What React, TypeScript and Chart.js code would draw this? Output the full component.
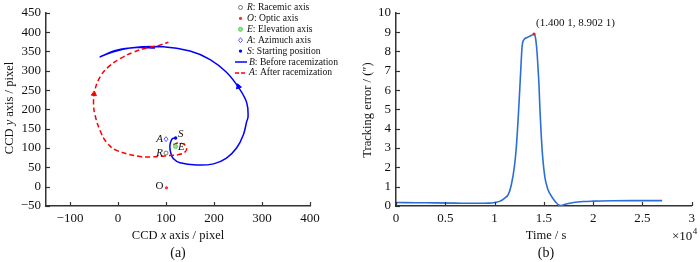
import React, { useEffect, useRef } from 'react';
import { Chart, registerables } from 'chart.js';

Chart.register(...registerables);

// ---------- Left chart data (CCD pixels) ----------
const beforeX = [120, 114, 110, 108, 110, 115, 129, 164, 199, 226, 247, 261, 268, 271, 268, 251, 226, 192, 150, 94, 25, -17, -37, -3, 39, 77];
const beforeY = [125, 125, 117, 104, 87, 73, 62, 56, 59, 74, 100, 134, 168, 182, 218, 257, 296, 329, 351, 362, 359, 346, 336, 353, 360, 359];

const afterX = [115, 126, 137, 143, 140, 126, 108, 94, 67, 46, -3, -24, -37, -48, -51, -48, -37, -20, 4, 32, 60, 84, 105];
const afterY = [109, 113, 110, 100, 90, 83, 81, 79, 77, 78, 94, 115, 144, 186, 218, 251, 285, 310, 331, 348, 359, 365, 374];

const markerNames = ['R', 'O', 'E', 'A', 'S'];
const markerX = [100, 101, 120, 100, 120];
const markerY = [87, -3, 104, 123, 126];

const arrowBefore = { x: 251, y: 259, rot: -20 };
const arrowAfter = { x: -50, y: 240, rot: 6 };

const leftXTicks = [-100, 0, 100, 200, 300, 400];
const leftYTicks = [-50, 0, 50, 100, 150, 200, 250, 300, 350, 400, 450];

const legendLetters = ['R', 'O', 'E', 'A', 'S', 'B', 'A'];
const legendTexts = [': Racemic axis', ': Optic axis', ': Elevation axis', ': Azimuch axis', ': Starting position', ': Before racemization', ': After racemization'];

// ---------- Right chart data (time ×10^4 s, tracking error ″) ----------
const timeE4 = [0, 0.2, 0.4, 0.6, 0.8, 0.95, 1.0, 1.05, 1.1, 1.14, 1.17, 1.2, 1.22, 1.24, 1.255, 1.267, 1.28, 1.3, 1.33, 1.36, 1.39, 1.4001, 1.415, 1.43, 1.44, 1.45, 1.46, 1.475, 1.49, 1.51, 1.535, 1.56, 1.59, 1.62, 1.65, 1.67, 1.7, 1.75, 1.8, 1.9, 2.0, 2.2, 2.4, 2.6, 2.7];
const trackErr = [0.18, 0.17, 0.16, 0.15, 0.14, 0.15, 0.18, 0.24, 0.4, 0.6, 1.1, 2.0, 3.0, 4.6, 6.0, 7.2, 8.3, 8.62, 8.72, 8.8, 8.87, 8.9021, 8.7, 8.0, 7.2, 6.3, 5.0, 3.5, 2.4, 1.5, 0.95, 0.65, 0.4, 0.2, 0.05, 0.02, 0.06, 0.13, 0.18, 0.23, 0.25, 0.27, 0.28, 0.28, 0.28];
const peakT = 1.4001;
const peakV = 8.9021;
const peakLabel = '(1.400 1, 8.902 1)';

const rightXTicks = [0, 0.5, 1, 1.5, 2, 2.5, 3];
const rightYTicks = [0, 1, 2, 3, 4, 5, 6, 7, 8, 9, 10];

const SERIF = "'Liberation Serif', 'Times New Roman', serif";
const BLUE = '#0000ff';
const RED = '#ff0000';
const LINEBLUE = '#2a6fd8';

function zip(xs: number[], ys: number[]) {
  return xs.map((x, i) => ({ x, y: ys[i] }));
}

function fmt(v: number) {
  return String(v).replace('-', '\u2212');
}

const insideTicks = {
  id: 'insideTicks',
  afterDatasetsDraw(chart: any) {
    const ctx = chart.ctx;
    const { x, y } = chart.scales;
    const area = chart.chartArea;
    ctx.save();
    ctx.strokeStyle = '#333';
    ctx.lineWidth = 1.2;
    x.ticks.forEach((t: any) => {
      const px = Math.round(x.getPixelForValue(t.value)) + 0.5;
      ctx.beginPath();
      ctx.moveTo(px, area.bottom);
      ctx.lineTo(px, area.bottom - 4);
      ctx.stroke();
    });
    y.ticks.forEach((t: any) => {
      const py = Math.round(y.getPixelForValue(t.value)) + 0.5;
      ctx.beginPath();
      ctx.moveTo(area.left, py);
      ctx.lineTo(area.left + 4, py);
      ctx.stroke();
    });
    ctx.restore();
  },
};

function drawMixed(ctx: CanvasRenderingContext2D, x: number, y: number, italic: string, rest: string, size: number) {
  ctx.font = `italic ${size}px ${SERIF}`;
  ctx.fillText(italic, x, y);
  const w = ctx.measureText(italic).width;
  ctx.font = `${size}px ${SERIF}`;
  ctx.fillText(rest, x + w, y);
}

function drawMarker(ctx: CanvasRenderingContext2D, kind: string, cx: number, cy: number) {
  ctx.save();
  ctx.lineWidth = 1;
  if (kind === 'R') {
    ctx.strokeStyle = '#777';
    ctx.beginPath();
    ctx.arc(cx, cy, 2, 0, Math.PI * 2);
    ctx.stroke();
  } else if (kind === 'O') {
    ctx.fillStyle = '#ff3030';
    ctx.beginPath();
    ctx.arc(cx, cy, 1.6, 0, Math.PI * 2);
    ctx.fill();
  } else if (kind === 'E') {
    ctx.fillStyle = '#8fe88f';
    ctx.strokeStyle = '#55cc55';
    ctx.beginPath();
    ctx.arc(cx, cy, 2, 0, Math.PI * 2);
    ctx.fill();
    ctx.stroke();
  } else if (kind === 'A') {
    ctx.strokeStyle = '#5a5aff';
    ctx.beginPath();
    ctx.moveTo(cx, cy - 2.5);
    ctx.lineTo(cx + 2, cy);
    ctx.lineTo(cx, cy + 2.5);
    ctx.lineTo(cx - 2, cy);
    ctx.closePath();
    ctx.stroke();
  } else if (kind === 'S') {
    ctx.fillStyle = BLUE;
    ctx.beginPath();
    ctx.arc(cx, cy, 1.7, 0, Math.PI * 2);
    ctx.fill();
  }
  ctx.restore();
}

const leftTexts = {
  id: 'leftTexts',
  afterDraw(chart: any) {
    const ctx: CanvasRenderingContext2D = chart.ctx;
    const { x, y } = chart.scales;
    ctx.save();
    ctx.fillStyle = '#111';
    ctx.textBaseline = 'middle';
    // markers near the loop
    markerNames.forEach((n, i) => {
      const px = x.getPixelForValue(markerX[i]);
      const py = y.getPixelForValue(markerY[i]);
      drawMarker(ctx, n, px, py);
      ctx.fillStyle = '#111';
      ctx.font = (n === 'O' ? '' : 'italic ') + `11px ${SERIF}`;
      if (n === 'R' || n === 'A' || n === 'O') {
        ctx.textAlign = 'right';
        ctx.fillText(n, px - 3, py - (n === 'O' ? 2 : 0));
      } else if (n === 'S') {
        ctx.textAlign = 'left';
        ctx.fillText(n, px + 2.5, py - 3.5);
      } else {
        ctx.textAlign = 'left';
        ctx.fillText(n, px + 2.5, py + 0.5);
      }
    });
    // legend
    ctx.textAlign = 'left';
    legendLetters.forEach((L, i) => {
      const cy = 7.5 + i * 10.9;
      if (i < 5) {
        drawMarker(ctx, markerNames[i], 240.5, cy);
        ctx.fillStyle = '#111';
        drawMixed(ctx, 247, cy, L, legendTexts[i], 9.6);
      } else {
        ctx.save();
        ctx.lineWidth = 1.5;
        ctx.strokeStyle = i === 5 ? BLUE : RED;
        if (i === 6) ctx.setLineDash([4, 2]);
        ctx.beginPath();
        ctx.moveTo(235, cy);
        ctx.lineTo(247, cy);
        ctx.stroke();
        ctx.restore();
        ctx.fillStyle = '#111';
        drawMixed(ctx, 249, cy, L, legendTexts[i], 9.6);
      }
    });
    // axis titles
    ctx.fillStyle = '#111';
    ctx.textAlign = 'left';
    const parts: [string, boolean][] = [['CCD ', false], ['x', true], [' axis / pixel', false]];
    let total = 0;
    parts.forEach(([t, it]) => { ctx.font = `${it ? 'italic ' : ''}12.5px ${SERIF}`; total += ctx.measureText(t).width; });
    let sx = 178 - total / 2;
    parts.forEach(([t, it]) => { ctx.font = `${it ? 'italic ' : ''}12.5px ${SERIF}`; ctx.fillText(t, sx, 236); sx += ctx.measureText(t).width; });
    ctx.font = `14px ${SERIF}`;
    ctx.textAlign = 'center';
    ctx.fillText('(a)', 178, 253);
    // y title rotated
    ctx.save();
    ctx.translate(10, 108);
    ctx.rotate(-Math.PI / 2);
    const yparts: [string, boolean][] = [['CCD ', false], ['y', true], [' axis / pixel', false]];
    total = 0;
    yparts.forEach(([t, it]) => { ctx.font = `${it ? 'italic ' : ''}12.5px ${SERIF}`; total += ctx.measureText(t).width; });
    sx = -total / 2;
    ctx.textAlign = 'left';
    yparts.forEach(([t, it]) => { ctx.font = `${it ? 'italic ' : ''}12.5px ${SERIF}`; ctx.fillText(t, sx, 0); sx += ctx.measureText(t).width; });
    ctx.restore();
    ctx.restore();
  },
};

const rightTexts = {
  id: 'rightTexts',
  afterDraw(chart: any) {
    const ctx: CanvasRenderingContext2D = chart.ctx;
    const { x, y } = chart.scales;
    ctx.save();
    ctx.fillStyle = '#111';
    ctx.textBaseline = 'middle';
    const px = x.getPixelForValue(peakT);
    const py = y.getPixelForValue(peakV);
    ctx.fillStyle = '#e02020';
    ctx.beginPath();
    ctx.arc(px, py, 1.6, 0, Math.PI * 2);
    ctx.fill();
    ctx.fillStyle = '#111';
    ctx.font = `11px ${SERIF}`;
    ctx.textAlign = 'left';
    ctx.fillText(peakLabel, px + 2, py - 11);
    ctx.font = `12.5px ${SERIF}`;
    ctx.textAlign = 'center';
    ctx.fillText('Time / s', 196, 236);
    ctx.font = `14px ${SERIF}`;
    ctx.fillText('(b)', 196, 253);
    ctx.font = `13px ${SERIF}`;
    ctx.textAlign = 'left';
    ctx.fillText('\u00d710', 322, 237);
    const w = ctx.measureText('\u00d710').width;
    ctx.font = `9px ${SERIF}`;
    ctx.fillText('4', 322 + w + 0.5, 232);
    ctx.save();
    ctx.translate(18, 110);
    ctx.rotate(-Math.PI / 2);
    ctx.font = `12.5px ${SERIF}`;
    ctx.textAlign = 'center';
    ctx.fillText('Tracking error / (\u2033)', 0, 0);
    ctx.restore();
    ctx.restore();
  },
};

const tickFont = { family: SERIF, size: 13 };

function axisBase(ticksArr: number[], isX: boolean, size: number) {
  return {
    type: 'linear' as const,
    border: { display: true, color: '#333', width: 1.5 },
    grid: { display: false, drawTicks: false },
    afterBuildTicks: (s: any) => { s.ticks = ticksArr.map((v) => ({ value: v })); },
    afterFit: (s: any) => { if (isX) s.height = size; else s.width = size; },
    ticks: { font: tickFont, color: '#111', padding: 5, maxRotation: 0, autoSkip: false, callback: (v: any) => fmt(v) },
  };
}

export default function App() {
  const leftRef = useRef<HTMLCanvasElement>(null);
  const rightRef = useRef<HTMLCanvasElement>(null);

  useEffect(() => {
    const left = new Chart(leftRef.current!, {
      type: 'scatter',
      data: {
        datasets: [
          {
            data: zip(afterX, afterY), showLine: true, borderColor: RED, borderWidth: 1.5,
            borderDash: [5, 3], pointRadius: 0, tension: 0.4, fill: false,
          },
          {
            data: zip(beforeX, beforeY), showLine: true, borderColor: BLUE, borderWidth: 1.5,
            pointRadius: 0, tension: 0.4, fill: false,
          },
          {
            data: [{ x: arrowBefore.x, y: arrowBefore.y }], pointStyle: 'triangle', pointRadius: 3,
            rotation: arrowBefore.rot, backgroundColor: BLUE, borderColor: BLUE, borderWidth: 1,
          },
          {
            data: [{ x: arrowAfter.x, y: arrowAfter.y }], pointStyle: 'triangle', pointRadius: 3,
            rotation: arrowAfter.rot, backgroundColor: RED, borderColor: RED, borderWidth: 1,
          },
        ],
      },
      options: {
        animation: false, responsive: false, devicePixelRatio: 1,
        layout: { padding: { top: 8, right: 40, left: 0, bottom: 0 } },
        plugins: { legend: { display: false }, tooltip: { enabled: false } },
        scales: {
          x: { ...axisBase(leftXTicks, true, 56), min: -150, max: 400 },
          y: { ...axisBase(leftYTicks, false, 46), min: -50, max: 450 },
        },
      },
      plugins: [insideTicks, leftTexts],
    } as any);

    const right = new Chart(rightRef.current!, {
      type: 'scatter',
      data: {
        datasets: [
          {
            data: zip(timeE4, trackErr), showLine: true, borderColor: LINEBLUE, borderWidth: 1.6,
            pointRadius: 0, cubicInterpolationMode: 'monotone', fill: false,
          },
        ],
      },
      options: {
        animation: false, responsive: false, devicePixelRatio: 1,
        layout: { padding: { top: 10, right: 4, left: 0, bottom: 0 } },
        plugins: { legend: { display: false }, tooltip: { enabled: false } },
        scales: {
          x: { ...axisBase(rightXTicks, true, 56), min: 0, max: 3 },
          y: { ...axisBase(rightYTicks, false, 46), min: 0, max: 10 },
        },
      },
      plugins: [insideTicks, rightTexts],
    } as any);

    return () => { left.destroy(); right.destroy(); };
  }, []);

  return (
    <div style={{ position: 'fixed', left: 0, top: 0, width: 700, height: 262, background: '#fff' }}>
      <canvas ref={leftRef} width={350} height={262} style={{ position: 'absolute', left: 0, top: 0 }} />
      <canvas ref={rightRef} width={350} height={262} style={{ position: 'absolute', left: 350, top: 0 }} />
    </div>
  );
}
